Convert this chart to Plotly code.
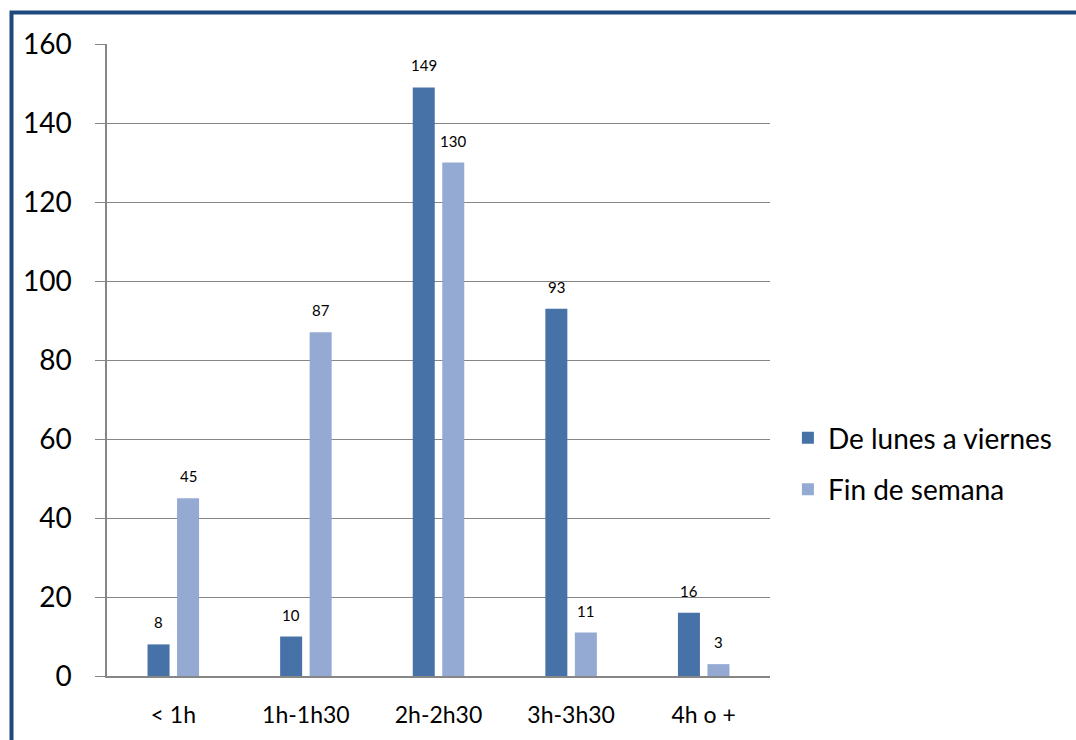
import plotly.graph_objects as go

categories = ["< 1h", "1h-1h30", "2h-2h30", "3h-3h30", "4h o +"]
semana = [8, 10, 149, 93, 16]
finde = [45, 87, 130, 11, 3]
series_names = ["De lunes a viernes", "Fin de semana"]
colors = ["#4672A8", "#94AAD2"]
y_ticks = [0, 20, 40, 60, 80, 100, 120, 140, 160]

W, H = 1076, 740
L, R, T, B = 107, 306, 44, 62
pw, ph = W - L - R, H - T - B

fig = go.Figure()
for name, vals, col in zip(series_names, [semana, finde], colors):
    fig.add_trace(go.Bar(
        x=categories, y=vals, name=name, legendgroup=name,
        marker=dict(color=col, line=dict(width=0)),
    ))

bargap = 0.555
slot = (1 - bargap) * (pw / len(categories)) / 2
annotations = []
for k, vals in enumerate([semana, finde]):
    for c, v in zip(categories, vals):
        annotations.append(dict(
            x=c, y=v, xref="x", yref="y", text=str(v), showarrow=False,
            xshift=(k - 0.5) * slot, yanchor="bottom", yshift=11,
            font=dict(size=15, color="#000000", family="Lato, Carlito, sans-serif"),
        ))

def px2x(px):
    return (px - L) / pw

def py2y(py):
    return (H - B - py) / ph

shapes = [dict(
    type="rect", xref="paper", yref="paper",
    x0=px2x(11.5), x1=px2x(W + 20), y0=py2y(H + 20), y1=py2y(12.5),
    line=dict(color="#1F497D", width=4), fillcolor="rgba(0,0,0,0)", layer="above",
)]

fig.update_layout(
    width=W, height=H,
    margin=dict(l=L, r=R, t=T, b=B, pad=0),
    paper_bgcolor="white", plot_bgcolor="white",
    barmode="group", bargap=bargap, bargroupgap=0.254,
    font=dict(family="Lato, Carlito, sans-serif", color="#000000"),
    xaxis=dict(
        showline=True, linecolor="#868686", linewidth=1.5,
        showgrid=False, ticks="", tickfont=dict(size=23),
        ticklabelstandoff=18,
    ),
    yaxis=dict(
        range=[0, 160], tickvals=y_ticks, showline=True, linecolor="#868686",
        linewidth=1.5, showgrid=True, gridcolor="#868686", gridwidth=1,
        ticks="outside", ticklen=10, tickcolor="#868686", tickwidth=1,
        tickfont=dict(size=28), ticklabelstandoff=18, zeroline=False,
    ),
    legend=dict(
        x=1.027, y=py2y(465), xanchor="left", yanchor="middle",
        font=dict(size=28), tracegroupgap=12, bgcolor="rgba(0,0,0,0)",
        traceorder="grouped",
    ),
    annotations=annotations,
    shapes=shapes,
)

fig.write_html("out.html")
